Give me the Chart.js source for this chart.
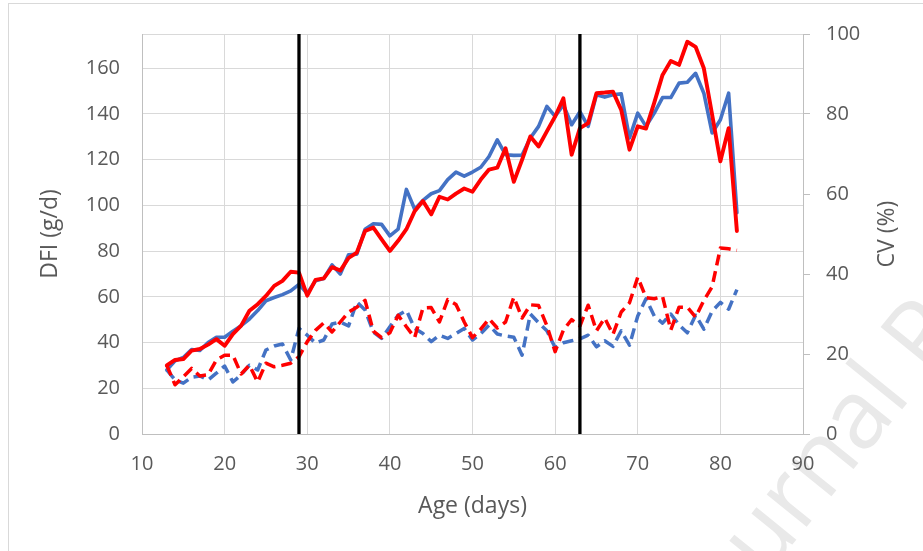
<!DOCTYPE html>
<html>
<head>
<meta charset="utf-8">
<script src="https://cdn.jsdelivr.net/npm/chart.js@4.4.1/dist/chart.umd.min.js"></script>
<style>
html,body{margin:0;padding:0;background:#fff;}
canvas{display:block;}
</style>
</head>
<body>
<canvas id="c" width="923" height="551"></canvas>
<script>
// ---- data ----
const days = [13,14,15,16,17,18,19,20,21,22,23,24,25,26,27,28,29,30,
  31,32,33,34,35,36,37,38,39,40,41,42,43,44,45,46,47,48,49,50,
  51,52,53,54,55,56,57,58,59,60,61,62,63,64,65,66,67,68,69,70,
  71,72,73,74,75,76,77,78,79,80,81,82];

// DFI (g/d), left axis
const dfiBlue = [28,32,33.5,37,36.5,40,42.3,42.3,45,47.4,50.3,54,58.3,59.7,61,62.6,65.5,61.5,
  67,68,74,70,78.4,78.7,89.6,92,91.7,86.7,
  89.6,107,98.3,102.2,105.1,106.5,111.3,114.6,112.8,114.6,
  116.7,121.4,128.7,122.2,121.9,122,129.5,134.6,143.3,139,
  144,135.3,141,134.6,148.4,147.4,148.4,148.8,129.5,140.4,
  134.6,140.4,147.2,147.2,153.5,153.9,157.8,149.1,131.7,137.5,149.1,96.8];

const dfiRed = [30,32.4,32.8,36.5,37.2,39.1,41.5,38.6,43.7,47.4,53.9,56.8,60.4,64.8,67,71,70.6,60.5,
  67.4,68.1,73,71.5,77,79.4,88.8,90.3,85.2,80.1,
  84.5,89.6,97.5,101.9,96.1,103.8,102.6,105.2,107.4,106,
  111.3,115.7,116.5,125,110.3,120,130.2,125.8,132.4,138.9,
  146.9,122.2,133.8,136,149.1,149.4,149.8,141.8,124.4,134.6,
  133.6,145,157.1,163.2,161.5,171.6,169.4,160,139.7,119.3,133.8,88.8];

// CV (%), right axis
const cvBlue = [16,13.5,12.7,14.2,14.5,13.5,15.2,17,13,14.8,17.2,16,21,22,22.5,18.5,26.4,24.7,
  22.7,23.5,27.5,28,27,33,31,25.5,23.9,26.8,
  29.7,30.9,26.4,25.1,23.1,24.7,23.9,25.1,26.4,23.5,
  25.1,27.2,25,24.5,24.2,19.7,30,27.8,25.8,21.6,
  22.8,23.3,23.8,24.7,21.8,23.3,21.9,25.8,22.2,29.5,
  33.8,29.5,27.7,30,27.3,25.3,29.7,26.2,30.7,32.9,31.2,36.1];

const cvRed = [17.2,12.3,14.3,16.4,14.5,14.8,18.5,19.7,19.7,15,17.2,13,17.7,16.8,17.2,17.7,19.3,23.1,
  25.9,27.8,25.5,28,30.5,31.7,33.4,25.7,24.1,25.3,
  29.7,26.8,24.1,31.5,31.6,28,33.6,32.4,28,24.1,
  26.2,28.8,26.5,28,34.2,29,32.3,32.1,27.1,20.6,
  26,28.6,27,32.2,25.8,29,24.9,30.5,32.8,39.2,
  34.1,33.8,34.4,26,31.7,31.7,29.2,33.4,36.8,46.5,46.3,45.9];

// phase boundaries (vertical black lines), in days
const phaseDays = [29, 63];

const xTicks = [10,20,30,40,50,60,70,80,90];
const yLeftTicks = [0,20,40,60,80,100,120,140,160];
const yRightTicks = [0,20,40,60,80,100];

const xTitle = 'Age (days)';
const yLeftTitle = 'DFI (g/d)';
const yRightTitle = 'CV (%)';
const watermark = 'Journal Pre-proof';

// ---- styling ----
const TEXT = '#595959';
const FAM = '"Open Sans", "Liberation Sans", Arial, sans-serif';
const BLUE = '#4472C4';
const RED = '#FF0000';
const LEFT_MAX = 175;

const pts = ys => days.map((d, i) => ({x: d, y: ys[i]}));

const framePlugin = {
  id: 'frame',
  beforeDraw(chart) {
    const ctx = chart.ctx;
    ctx.save();
    ctx.fillStyle = '#ffffff';
    ctx.fillRect(0, 0, chart.width, chart.height);
    ctx.strokeStyle = '#d9d9d9';
    ctx.lineWidth = 1;
    ctx.strokeRect(8.5, 3.5, 1000, 1000);
    ctx.translate(712, 644);
    ctx.rotate(-51 * Math.PI / 180);
    ctx.font = '96px ' + FAM;
    ctx.fillStyle = '#e9e9e9';
    ctx.textBaseline = 'alphabetic';
    ctx.fillText(watermark, 0, 0);
    ctx.restore();
  },
  afterDraw(chart) {
    const ctx = chart.ctx;
    const s = chart.scales.y1;
    ctx.save();
    ctx.translate(887, (s.top + s.bottom) / 2);
    ctx.rotate(-Math.PI / 2);
    ctx.font = '23px ' + FAM;
    ctx.fillStyle = TEXT;
    ctx.textAlign = 'center';
    ctx.textBaseline = 'middle';
    ctx.fillText(yRightTitle, 0, 0);
    ctx.restore();
  }
};

const phaseSets = phaseDays.map((d, i) => ({
  label: 'phase ' + (i + 1),
  data: [{x: d, y: 0}, {x: d, y: LEFT_MAX}],
  yAxisID: 'y',
  borderColor: '#000000',
  borderWidth: 3.3,
  borderCapStyle: 'butt',
  order: 0
}));

new Chart(document.getElementById('c'), {
  type: 'line',
  data: {
    datasets: [
      ...phaseSets,
      {label: 'CV red', data: pts(cvRed), yAxisID: 'y1', borderColor: RED, borderWidth: 3.5,
        borderDash: [11, 6], borderCapStyle: 'butt', order: 1},
      {label: 'CV blue', data: pts(cvBlue), yAxisID: 'y1', borderColor: BLUE, borderWidth: 3.5,
        borderDash: [11, 6], borderCapStyle: 'butt', order: 2},
      {label: 'DFI red', data: pts(dfiRed), yAxisID: 'y', borderColor: RED, borderWidth: 3.9, order: 3},
      {label: 'DFI blue', data: pts(dfiBlue), yAxisID: 'y', borderColor: BLUE, borderWidth: 3.6, order: 4}
    ]
  },
  options: {
    responsive: false,
    animation: false,
    devicePixelRatio: 1,
    layout: {padding: {top: 32, left: 0, right: 0, bottom: 0}},
    plugins: {legend: {display: false}, tooltip: {enabled: false}},
    elements: {
      point: {radius: 0, hoverRadius: 0},
      line: {tension: 0, borderJoinStyle: 'round', borderCapStyle: 'round', fill: false}
    },
    scales: {
      x: {
        type: 'linear', min: xTicks[0], max: xTicks[xTicks.length - 1],
        afterBuildTicks: s => { s.ticks = xTicks.map(v => ({value: v})); },
        ticks: {color: TEXT, font: {family: FAM, size: 20}, padding: 18, maxRotation: 0, autoSkip: false},
        grid: {color: '#d9d9d9', drawTicks: false},
        border: {color: '#bfbfbf'},
        title: {display: true, text: xTitle, color: TEXT, font: {family: FAM, size: 23},
          padding: {top: 0, bottom: 31}},
        afterFit: s => { s.height = 117; }
      },
      y: {
        position: 'left', min: 0, max: LEFT_MAX,
        afterBuildTicks: s => { s.ticks = yLeftTicks.concat([LEFT_MAX]).map(v => ({value: v})); },
        ticks: {color: TEXT, font: {family: FAM, size: 20}, padding: 22, autoSkip: false,
          callback: v => (yLeftTicks.includes(v) ? String(v) : '')},
        grid: {color: '#d9d9d9', drawTicks: false},
        border: {color: '#bfbfbf'},
        title: {display: true, text: yLeftTitle, color: TEXT, font: {family: FAM, size: 23},
          padding: {top: 37, bottom: 0}},
        afterFit: s => { s.width = 142; }
      },
      y1: {
        position: 'right', min: 0, max: 100,
        afterBuildTicks: s => { s.ticks = yRightTicks.map(v => ({value: v})); },
        ticks: {color: TEXT, font: {family: FAM, size: 20}, padding: 16, autoSkip: false},
        grid: {drawOnChartArea: false, drawTicks: true, tickLength: 7, color: '#bfbfbf'},
        border: {color: '#bfbfbf'},
        afterFit: s => { s.width = 120; }
      }
    }
  },
  plugins: [framePlugin]
});
</script>
</body>
</html>
